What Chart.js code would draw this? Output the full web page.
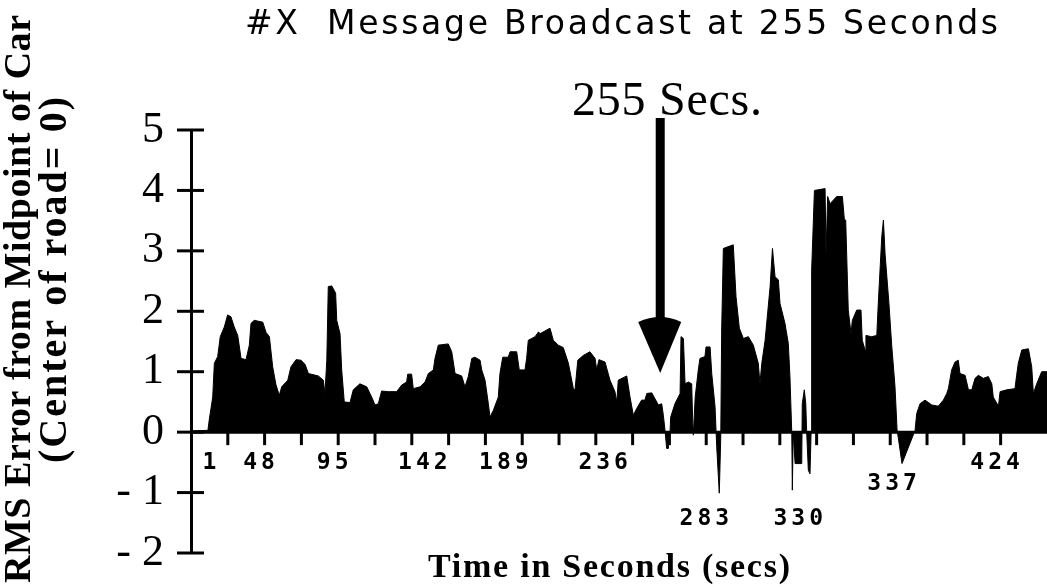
<!DOCTYPE html>
<html>
<head>
  <title>#X Message Broadcast at 255 Seconds</title>
  <style>
    body { margin: 0; background: #fff; }
    #chart { display: block; }
  </style>
  <script src="https://cdn.jsdelivr.net/npm/chart.js@4"></script>
</head>
<body>
  <canvas id="chart" width="1047" height="587"></canvas>
  <script>
    // trace: time in seconds, RMS error
    const timeSecs = [
      0, 9.2, 9.9, 11.8, 12.7, 14.5, 15.9, 18.1, 19.9, 21.7,
      23.5, 25.4, 27.2, 29.9, 31.7, 32.6, 34.4, 39.0, 40.8, 42.6,
      44.4, 46.2, 48.0, 49.3, 52.6, 54.3, 57.1, 59.8, 62.0, 63.8,
      69.2, 71.9, 72.8, 73.8, 74.6, 76.5, 78.6, 79.2, 81.0, 81.9,
      83.3, 86.4, 88.2, 91.8, 95.5, 98.2, 100.0, 101.8, 103.6, 107.2,
      111.8, 114.5, 117.2, 117.8, 119.9, 120.8, 124.5, 127.2, 129.0, 131.7,
      132.6, 134.4, 139.8, 141.7, 143.5, 147.1, 148.9, 150.7, 152.6, 154.3,
      157.1, 158.0, 159.8, 161.6, 162.5, 164.3, 167.0, 167.9, 169.4, 172.4,
      173.4, 177.0, 178.4, 181.5, 182.4, 183.3, 187.0, 188.9, 189.7, 195.1,
      196.9, 199.6, 202.3, 205.1, 207.8, 208.7, 210.2, 213.2, 216.8, 219.6,
      220.5, 221.7, 225.0, 227.7, 230.4, 231.4, 232.2, 236.8, 238.6, 240.4,
      242.2, 244.9, 246.7, 247.7, 250.4, 252.2, 254.0, 255.8, 256.7, 257.6,
      258.5, 259.4, 260.3, 260.7, 263.0, 265.8, 266.3, 267.6, 268.5, 270.3,
      272.1, 272.7, 273.0, 274.0, 275.7, 276.6, 279.3, 279.9, 282.1, 283.0,
      284.8, 285.7, 287.1, 287.9, 288.4, 289.3, 294.7, 296.2, 298.0, 300.2,
      302.9, 305.6, 308.3, 309.2, 310.2, 312.0, 314.7, 316.0, 317.4, 319.2,
      320.1, 322.8, 324.6, 325.5, 326.5, 326.8, 327.3, 328.3, 331.9, 332.2,
      333.3, 334.1, 334.6, 335.5, 336.4, 337.0, 337.3, 338.8, 344.6, 345.1,
      346.0, 347.3, 350.9, 354.0, 355.1, 355.8, 357.2, 358.7, 359.4, 361.8,
      364.1, 364.8, 366.3, 366.8, 369.9, 372.7, 373.5, 375.4, 376.3, 377.2,
      379.3, 380.8, 382.6, 383.7, 386.4, 393.5, 394.4, 396.2, 398.9, 402.6,
      406.1, 408.9, 410.7, 411.6, 413.4, 415.2, 417.0, 417.9, 420.7, 422.5,
      424.3, 426.1, 427.9, 430.6, 433.3, 435.2, 436.0, 438.8, 439.7, 443.3,
      447.8, 448.7, 449.6, 451.5, 455.1, 456.9, 457.8, 459.6, 462.3, 465.2
    ];
    const rmsError = [
      0.02, 0.03, 0.2, 0.58, 1.14, 1.25, 1.58, 1.74, 1.94, 1.91,
      1.74, 1.6, 1.22, 1.2, 1.44, 1.8, 1.85, 1.82, 1.65, 1.58,
      1.08, 0.78, 0.61, 0.75, 0.86, 1.08, 1.2, 1.19, 1.12, 0.97,
      0.93, 0.86, 0.64, 1.19, 2.41, 2.42, 2.3, 1.85, 1.63, 1.03,
      0.5, 0.49, 0.7, 0.8, 0.75, 0.58, 0.45, 0.47, 0.68, 0.67,
      0.67, 0.78, 0.83, 0.96, 0.96, 0.72, 0.75, 0.83, 0.97, 1.03,
      1.22, 1.44, 1.46, 1.33, 0.97, 0.93, 0.75, 0.92, 1.22, 1.24,
      1.19, 1.03, 0.86, 0.47, 0.25, 0.36, 0.58, 0.97, 1.24, 1.24,
      1.33, 1.33, 1.03, 1.03, 1.22, 1.52, 1.58, 1.66, 1.63, 1.72,
      1.52, 1.44, 1.4, 1.14, 0.72, 0.7, 1.19, 1.27, 1.33, 1.22,
      1.03, 1.2, 1.16, 0.86, 0.67, 0.5, 0.86, 0.93, 0.58, 0.28,
      0.39, 0.53, 0.53, 0.64, 0.65, 0.55, 0.45, 0.47, 0.28, 0.03,
      -0.27, -0.27, -0.02, 0.25, 0.47, 0.64, 1.58, 1.55, 0.8, 0.83,
      0.8, 0.14, -0.05, 0.58, 1.03, 1.22, 1.25, 1.41, 1.41, 0.97,
      0.42, -0.24, -1.01, -0.08, 1.69, 3.04, 3.1, 2.24, 1.72, 1.55,
      1.58, 1.44, 1.14, 0.8, 1.14, 1.52, 2.4, 3.04, 2.57, 2.52,
      2.13, 1.8, 1.47, 0.92, -0.02, -0.96, 0, -0.52, -0.52, 0.47,
      0.7, 0.47, 0, -0.63, -0.69, 0, 2.68, 4.0, 4.03, 2.95,
      3.9, 3.78, 3.9, 3.9, 3.51, 3.51, 2.02, 1.63, 1.85, 2.02,
      2.02, 1.52, 1.36, 1.6, 1.58, 1.6, 2.13, 3.23, 3.51, 2.95,
      2.13, 1.44, 0.75, 0.05, -0.52, 0.03, 0.31, 0.47, 0.53, 0.45,
      0.43, 0.53, 0.64, 0.72, 1.03, 1.16, 1.19, 0.97, 0.94, 0.7,
      0.7, 0.89, 0.94, 0.89, 0.92, 0.8, 0.58, 0.43, 0.67, 0.7,
      0.72, 0.94, 1.14, 1.36, 1.38, 1.08, 0.64, 0.8, 1.0, 1.0
    ];

    // x-axis labels as printed, where they sit (secs) and which row
    const xLabels = ['1', '48', '95', '142', '189', '236', '283', '330', '337', '424'];
    const xLabelAt = [10, 37, 77, 126, 170, 224, 279, 330, 381, 437];
    const xLabelRow = [0, 0, 0, 0, 0, 0, 2, 2, 1, 0];

    const broadcastAt = 255;
    const arrowTip = 0.98;

    // spread text so it covers a given width
    function fitText(ctx, text, x, y, width) {
      ctx.letterSpacing = '0px';
      let w = ctx.measureText(text).width;
      let sp = (width - w) / (text.length - 1);
      ctx.letterSpacing = sp + 'px';
      ctx.fillText(text, x, y);
      ctx.letterSpacing = '0px';
    }

    function line(ctx, x1, y1, x2, y2) {
      ctx.beginPath();
      ctx.moveTo(x1, y1);
      ctx.lineTo(x2, y2);
      ctx.stroke();
    }

    const decor = {
      id: 'decor',
      afterDraw(chart) {
        let ctx = chart.ctx;
        let x = chart.scales.x, y = chart.scales.y;
        let area = chart.chartArea;
        let x0 = area.left, y0 = y.getPixelForValue(0);
        ctx.save();
        ctx.fillStyle = '#000';
        ctx.strokeStyle = '#000';
        ctx.lineWidth = 3;

        // time axis runs along zero
        line(ctx, x0, y0, area.right, y0);
        // y ticks cross the axis
        y.ticks.forEach(t => {
          let py = y.getPixelForValue(t.value);
          line(ctx, x0 - 14, py, x0 + 13, py);
        });
        // x ticks hang under the axis
        x.ticks.forEach(t => {
          if (t.value > 0 && t.value % 20 === 0) {
            let px = x.getPixelForValue(t.value);
            line(ctx, px, y0, px, y0 + 13);
          }
        });

        // x labels
        ctx.font = 'bold 23px "DejaVu Sans Mono"';
        ctx.letterSpacing = '4px';
        ctx.textAlign = 'center';
        ctx.textBaseline = 'middle';
        let rowOffset = [31, 52, 87];
        xLabels.forEach((lab, i) => {
          ctx.fillText(lab, x.getPixelForValue(xLabelAt[i]) + 2, y0 + rowOffset[xLabelRow[i]]);
        });
        ctx.letterSpacing = '0px';

        // arrow at the broadcast time
        let ax = x.getPixelForValue(broadcastAt);
        let tipY = y.getPixelForValue(arrowTip);
        let headTop = tipY - 51;
        ctx.fillRect(ax - 4.5, 118, 9, headTop - 118 + 2);
        ctx.beginPath();
        ctx.moveTo(ax - 22, headTop);
        ctx.quadraticCurveTo(ax, headTop - 10, ax + 21, headTop);
        ctx.lineTo(ax, tipY);
        ctx.closePath();
        ctx.fill();

        // texts
        ctx.textAlign = 'left';
        ctx.textBaseline = 'alphabetic';
        ctx.font = '33px "DejaVu Sans"';
        fitText(ctx, '#X  Message Broadcast at 255 Seconds', 245, 34, 753);
        ctx.font = '48px "Liberation Serif"';
        fitText(ctx, '255 Secs.', 572, 115, 190);
        ctx.font = 'bold 34px "Liberation Serif"';
        fitText(ctx, 'Time in Seconds (secs)', 428, 577, 362);

        ctx.save();
        ctx.translate(20, 299);
        ctx.rotate(-Math.PI / 2);
        ctx.textBaseline = 'middle';
        ctx.font = 'bold 38px "Liberation Serif"';
        fitText(ctx, 'RMS Error from Midpoint of Car', -284, 0, 568);
        ctx.restore();

        ctx.save();
        ctx.translate(56, 280);
        ctx.rotate(-Math.PI / 2);
        ctx.textBaseline = 'middle';
        ctx.font = 'bold 40px "Liberation Serif"';
        fitText(ctx, '(Center of road= 0)', -183, 0, 366);
        ctx.restore();

        ctx.restore();
      }
    };

    let ctx = document.getElementById('chart').getContext('2d');
    let chart = new Chart(ctx, {
      type: 'line',
      data: {
        datasets: [{
          data: timeSecs.map((t, i) => ({x: t, y: rmsError[i]})),
          borderColor: '#000',
          backgroundColor: '#000',
          borderWidth: 1,
          fill: 'origin',
          pointRadius: 0,
          tension: 0
        }]
      },
      options: {
        responsive: false,
        animation: false,
        layout: { padding: { left: 0, right: 0, top: 130, bottom: 34 } },
        plugins: {
          legend: { display: false },
          tooltip: { enabled: false }
        },
        scales: {
          x: {
            type: 'linear',
            display: false,
            min: 0,
            max: 465.2,
            ticks: { stepSize: 20 }
          },
          y: {
            min: -2,
            max: 5,
            grid: { display: false },
            border: { display: true, color: '#000', width: 3 },
            ticks: {
              stepSize: 1,
              color: '#000',
              padding: 19,
              // small line height keeps the end labels from pushing the plot area in
              font: { family: '"Liberation Serif"', size: 44, lineHeight: 0.6 },
              callback: v => v < 0 ? '- ' + Math.abs(v) : String(v)
            },
            afterFit: s => { s.width = 191; }
          }
        }
      },
      plugins: [decor]
    });
  </script>
</body>
</html>
